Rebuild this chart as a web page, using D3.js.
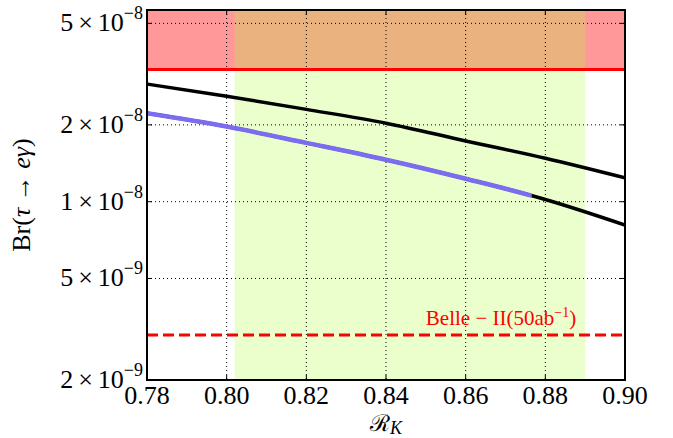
<!DOCTYPE html>
<html>
<head>
<meta charset="utf-8">
<script src="https://cdn.jsdelivr.net/npm/d3@7"></script>
<style>
  body { margin: 0; background: #fff; }
  svg { display: block; font-family: "Liberation Serif", "DejaVu Serif", serif; }
</style>
</head>
<body>
<div id="chart"></div>
<script>
// values
var rk = [0.78, 0.80, 0.82, 0.84, 0.86, 0.88, 0.90];
var brUpper = [2.89e-8, 2.59e-8, 2.30e-8, 2.03e-8, 1.73e-8, 1.48e-8, 1.24e-8];
var brLower = [2.22e-8, 1.97e-8, 1.70e-8, 1.46e-8, 1.23e-8, 1.02e-8, 0.81e-8];
var blueEnd = 0.8766;            // lower curve is blue up to here
var rkBand = [0.802, 0.890];     // measured R_K range
var currentLimit = 3.3e-8;       // excluded above
var belleLimit = 3.0e-9;         // Belle II projection
var xTicks = [0.78, 0.80, 0.82, 0.84, 0.86, 0.88, 0.90];
var yTicks = [2e-9, 5e-9, 1e-8, 2e-8, 5e-8];
var xDomain = [0.78, 0.90];
var yDomain = [2e-9, 5.64e-8];

var width = 673, height = 438;
var margin = {top: 10, right: 48, bottom: 58, left: 147};
var w = width - margin.left - margin.right;
var h = height - margin.top - margin.bottom;

var x = d3.scaleLinear().domain(xDomain).range([0, w]);
var y = d3.scaleLog().domain(yDomain).range([h, 0]);

var svg = d3.select("#chart").append("svg")
    .attr("width", width)
    .attr("height", height);

svg.append("defs").append("clipPath").attr("id", "plotclip")
  .append("rect").attr("width", w).attr("height", h);
svg.select("defs").append("clipPath").attr("id", "blueclip")
  .append("rect").attr("width", x(blueEnd)).attr("height", h);

var g = svg.append("g")
    .attr("transform", "translate(" + margin.left + "," + margin.top + ")");

var plot = g.append("g").attr("clip-path", "url(#plotclip)");

// excluded region
plot.append("rect")
    .attr("x", 0).attr("width", w)
    .attr("y", y(yDomain[1])).attr("height", y(currentLimit) - y(yDomain[1]))
    .attr("fill", "red").attr("fill-opacity", 0.4);

// R_K band
plot.append("rect")
    .attr("x", x(rkBand[0])).attr("width", x(rkBand[1]) - x(rkBand[0]))
    .attr("y", 0).attr("height", h)
    .attr("fill", "#adff2f").attr("fill-opacity", 0.25);

// grid
plot.selectAll(".vgrid").data(xTicks).enter().append("line")
    .attr("x1", function(d) { return x(d); }).attr("x2", function(d) { return x(d); })
    .attr("y1", 0).attr("y2", h)
    .attr("stroke", "#000").attr("stroke-width", 1).attr("stroke-dasharray", "1,3");
plot.selectAll(".hgrid").data(yTicks).enter().append("line")
    .attr("x1", 0).attr("x2", w)
    .attr("y1", function(d) { return y(d); }).attr("y2", function(d) { return y(d); })
    .attr("stroke", "#000").attr("stroke-width", 1).attr("stroke-dasharray", "1,3");

var line = d3.line()
    .x(function(d) { return x(d[0]); })
    .y(function(d) { return y(d[1]); })
    .curve(d3.curveMonotoneX);

var upper = rk.map(function(r, i) { return [r, brUpper[i]]; });
var lower = rk.map(function(r, i) { return [r, brLower[i]]; });

plot.append("path").attr("d", line(upper))
    .attr("fill", "none").attr("stroke", "#000").attr("stroke-width", 3.5);
plot.append("path").attr("d", line(lower))
    .attr("fill", "none").attr("stroke", "#000").attr("stroke-width", 3.5);
plot.append("g").attr("clip-path", "url(#blueclip)")
  .append("path").attr("d", line(lower))
    .attr("fill", "none").attr("stroke", "#7b6cf0").attr("stroke-width", 4.5);

// limits
plot.append("line")
    .attr("x1", 0).attr("x2", w)
    .attr("y1", y(currentLimit)).attr("y2", y(currentLimit))
    .attr("stroke", "red").attr("stroke-width", 3);
plot.append("line")
    .attr("x1", 0).attr("x2", w)
    .attr("y1", y(belleLimit)).attr("y2", y(belleLimit))
    .attr("stroke", "red").attr("stroke-width", 3).attr("stroke-dasharray", "11,5");

var belle = g.append("text")
    .attr("x", x(0.85)).attr("y", y(belleLimit) - 10)
    .attr("fill", "red").attr("font-size", 21);
belle.append("tspan").text("Belle \u2212 II(50ab");
belle.append("tspan").attr("dy", -8).attr("font-size", 14).text("\u22121");
belle.append("tspan").attr("dy", 8).text(")");

// frame and inward ticks
g.append("rect").attr("width", w).attr("height", h)
    .attr("fill", "none").attr("stroke", "#000").attr("stroke-width", 2);

var tickLen = 5;
xTicks.forEach(function(d) {
  g.append("line").attr("x1", x(d)).attr("x2", x(d)).attr("y1", h).attr("y2", h - tickLen)
      .attr("stroke", "#000").attr("stroke-width", 1);
  g.append("line").attr("x1", x(d)).attr("x2", x(d)).attr("y1", 0).attr("y2", tickLen)
      .attr("stroke", "#000").attr("stroke-width", 1);
});
yTicks.forEach(function(d) {
  g.append("line").attr("x1", 0).attr("x2", tickLen).attr("y1", y(d)).attr("y2", y(d))
      .attr("stroke", "#000").attr("stroke-width", 1);
  g.append("line").attr("x1", w).attr("x2", w - tickLen).attr("y1", y(d)).attr("y2", y(d))
      .attr("stroke", "#000").attr("stroke-width", 1);
});

// tick labels
g.selectAll(".xlab").data(xTicks).enter().append("text")
    .attr("x", function(d) { return x(d); })
    .attr("y", h + 24)
    .attr("text-anchor", "middle")
    .attr("font-size", 26)
    .text(function(d) { return d3.format(".2f")(d); });

yTicks.forEach(function(d) {
  var ex = Math.floor(Math.log10(d) + 1e-9);
  var mant = Math.round(d / Math.pow(10, ex));
  var t = g.append("text")
      .attr("x", -4).attr("y", y(d) + 8)
      .attr("text-anchor", "end")
      .attr("font-size", 26);
  t.append("tspan").text(mant);
  t.append("tspan").attr("dx", 5).text("\u00d7");
  t.append("tspan").attr("dx", 5).text("10");
  t.append("tspan").attr("dy", -12).attr("font-size", 18).text("\u2212" + Math.abs(ex));
});

// axis titles
var xt = g.append("text")
    .attr("x", w / 2).attr("y", h + 51)
    .attr("text-anchor", "middle")
    .attr("font-size", 23);
xt.append("tspan").text("\u211b");
xt.append("tspan").attr("dy", 3).attr("font-size", 18).attr("font-style", "italic").text("K");

var yt = g.append("text")
    .attr("transform", "translate(" + (-117) + "," + (h / 2) + ") rotate(-90)")
    .attr("text-anchor", "middle")
    .attr("font-size", 26);
yt.append("tspan").text("Br(");
yt.append("tspan").attr("font-style", "italic").text("\u03c4");
yt.append("tspan").text(" \u2192 ");
yt.append("tspan").attr("font-style", "italic").text("e\u03b3");
yt.append("tspan").text(")");
</script>
</body>
</html>
